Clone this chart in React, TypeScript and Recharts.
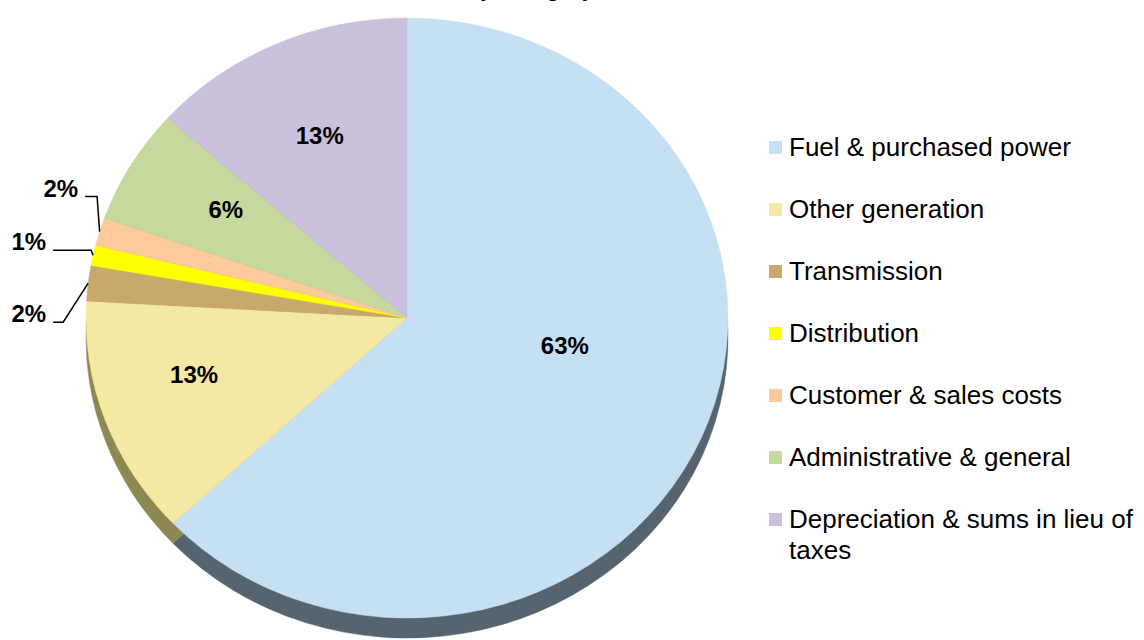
import { PieChart, Pie, Cell, Legend } from "recharts";

const CATEGORIES = [
  "Fuel & purchased power",
  "Other generation",
  "Transmission",
  "Distribution",
  "Customer & sales costs",
  "Administrative & general",
  "Depreciation & sums in lieu of taxes",
];
const SHARES = [63.0, 12.9, 1.9, 1.1, 1.5, 6.2, 13.4];
const LABELS = ["63%", "13%", "2%", "1%", "2%", "6%", "13%"];

const TOP_COLORS = ["#c6e0f3", "#f3e9a3", "#c9a86c", "#ffff00", "#fdca9b", "#c5d89d", "#ccc1dc"];
const SIDE_COLORS = ["#56646f", "#8d8852", "#7d6a44", "#9a9a10", "#9c7d60", "#7b8862", "#7f7890"];

const FONT = "'Liberation Sans', Arial, sans-serif";

const data = CATEGORIES.map((name, i) => ({ name, value: SHARES[i] }));

const RADIAN = Math.PI / 180;
const CX = 407;
const CY = 318;
const R = 310;
const KX = 321 / 310; // the pie is drawn slightly squashed, like the tilted original
const KY = 300 / 310;

// inner label placement: fraction of radius + angle nudge
const INNER = [
  { f: 0.5, d: 13 },
  { f: 0.69, d: -4 },
  null,
  null,
  null,
  { f: 0.67, d: -2 },
  { f: 0.665, d: 0 },
];
// outside labels with leader lines: elbow offset from rim and tail length
const OUTER = [null, null, { ex: -25, ey: 39, tail: 10 }, { ex: -2, ey: -5, tail: 38 }, { ex: -2.5, ey: -35, tail: 12 }, null, null];

function ellipsePoint(cx: number, cy: number, r: number, angle: number) {
  return {
    x: cx + r * KX * Math.cos(-angle * RADIAN),
    y: cy + r * KY * Math.sin(-angle * RADIAN),
  };
}

function EllipseSector(props: any) {
  const { cx, cy, outerRadius, startAngle, endAngle, fill } = props;
  const p1 = ellipsePoint(cx, cy, outerRadius, startAngle);
  const p2 = ellipsePoint(cx, cy, outerRadius, endAngle);
  const large = Math.abs(endAngle - startAngle) > 180 ? 1 : 0;
  const sweep = startAngle > endAngle ? 1 : 0;
  const d = `M${cx},${cy} L${p1.x},${p1.y} A${outerRadius * KX},${outerRadius * KY} 0 ${large} ${sweep} ${p2.x},${p2.y} Z`;
  return <path d={d} fill={fill} stroke={fill} strokeWidth={0.5} />;
}

function renderLabel(props: any) {
  const { cx, cy, midAngle, outerRadius, index } = props;
  const inner = INNER[index];
  if (inner) {
    const p = ellipsePoint(cx, cy, outerRadius * inner.f, midAngle + inner.d);
    return (
      <text x={p.x} y={p.y} textAnchor="middle" dominantBaseline="central" fontSize={24} fontWeight="bold" fontFamily={FONT} fill="#000">
        {LABELS[index]}
      </text>
    );
  }
  const o = OUTER[index];
  if (!o) return null;
  const rim = ellipsePoint(cx, cy, outerRadius, midAngle);
  const ex = rim.x + o.ex;
  const ey = rim.y + o.ey;
  const tx = ex - o.tail;
  return (
    <g>
      <polyline points={`${rim.x},${rim.y} ${ex},${ey} ${tx},${ey}`} fill="none" stroke="#000" strokeWidth={1.5} />
      <text x={tx - 7} y={ey} textAnchor="end" fontSize={24} fontWeight="bold" fontFamily={FONT} fill="#000">
        {LABELS[index]}
      </text>
    </g>
  );
}

function LegendBox() {
  return (
    <div style={{ fontFamily: FONT, fontSize: 26, color: "#000" }}>
      {CATEGORIES.map((name, i) => (
        <div key={name} style={{ display: "flex", alignItems: "flex-start", height: 62 }}>
          <div style={{ width: 13, height: 13, marginTop: 9, background: TOP_COLORS[i], flexShrink: 0 }} />
          <div style={{ marginLeft: 7, lineHeight: "31px", width: 356 }}>{name}</div>
        </div>
      ))}
    </div>
  );
}

export default function App() {
  return (
    <div style={{ position: "fixed", left: 0, top: 0, background: "#fff" }}>
      <PieChart width={1144} height={640} margin={{ top: 0, right: 0, bottom: 0, left: 0 }}>
        <text x={594} y={-4} textAnchor="end" fontSize={22} fontWeight="bold" fontFamily={FONT} fill="#000">
          by Category
        </text>
        <Pie
          data={data}
          dataKey="value"
          nameKey="name"
          cx={CX}
          cy={CY + 20}
          outerRadius={R}
          startAngle={90}
          endAngle={-270}
          isAnimationActive={false}
          shape={EllipseSector}
          activeShape={EllipseSector}
          inactiveShape={EllipseSector}
          legendType="none"
        >
          {data.map((_, i) => (
            <Cell key={i} fill={SIDE_COLORS[i]} />
          ))}
        </Pie>
        <Pie
          data={data}
          dataKey="value"
          nameKey="name"
          cx={CX}
          cy={CY}
          outerRadius={R}
          startAngle={90}
          endAngle={-270}
          isAnimationActive={false}
          shape={EllipseSector}
          activeShape={EllipseSector}
          inactiveShape={EllipseSector}
          label={renderLabel}
          labelLine={false}
        >
          {data.map((_, i) => (
            <Cell key={i} fill={TOP_COLORS[i]} />
          ))}
        </Pie>
        <Legend
          layout="vertical"
          align="right"
          verticalAlign="top"
          wrapperStyle={{ left: 769, top: 132, width: 375 }}
          content={() => <LegendBox />}
        />
      </PieChart>
    </div>
  );
}
